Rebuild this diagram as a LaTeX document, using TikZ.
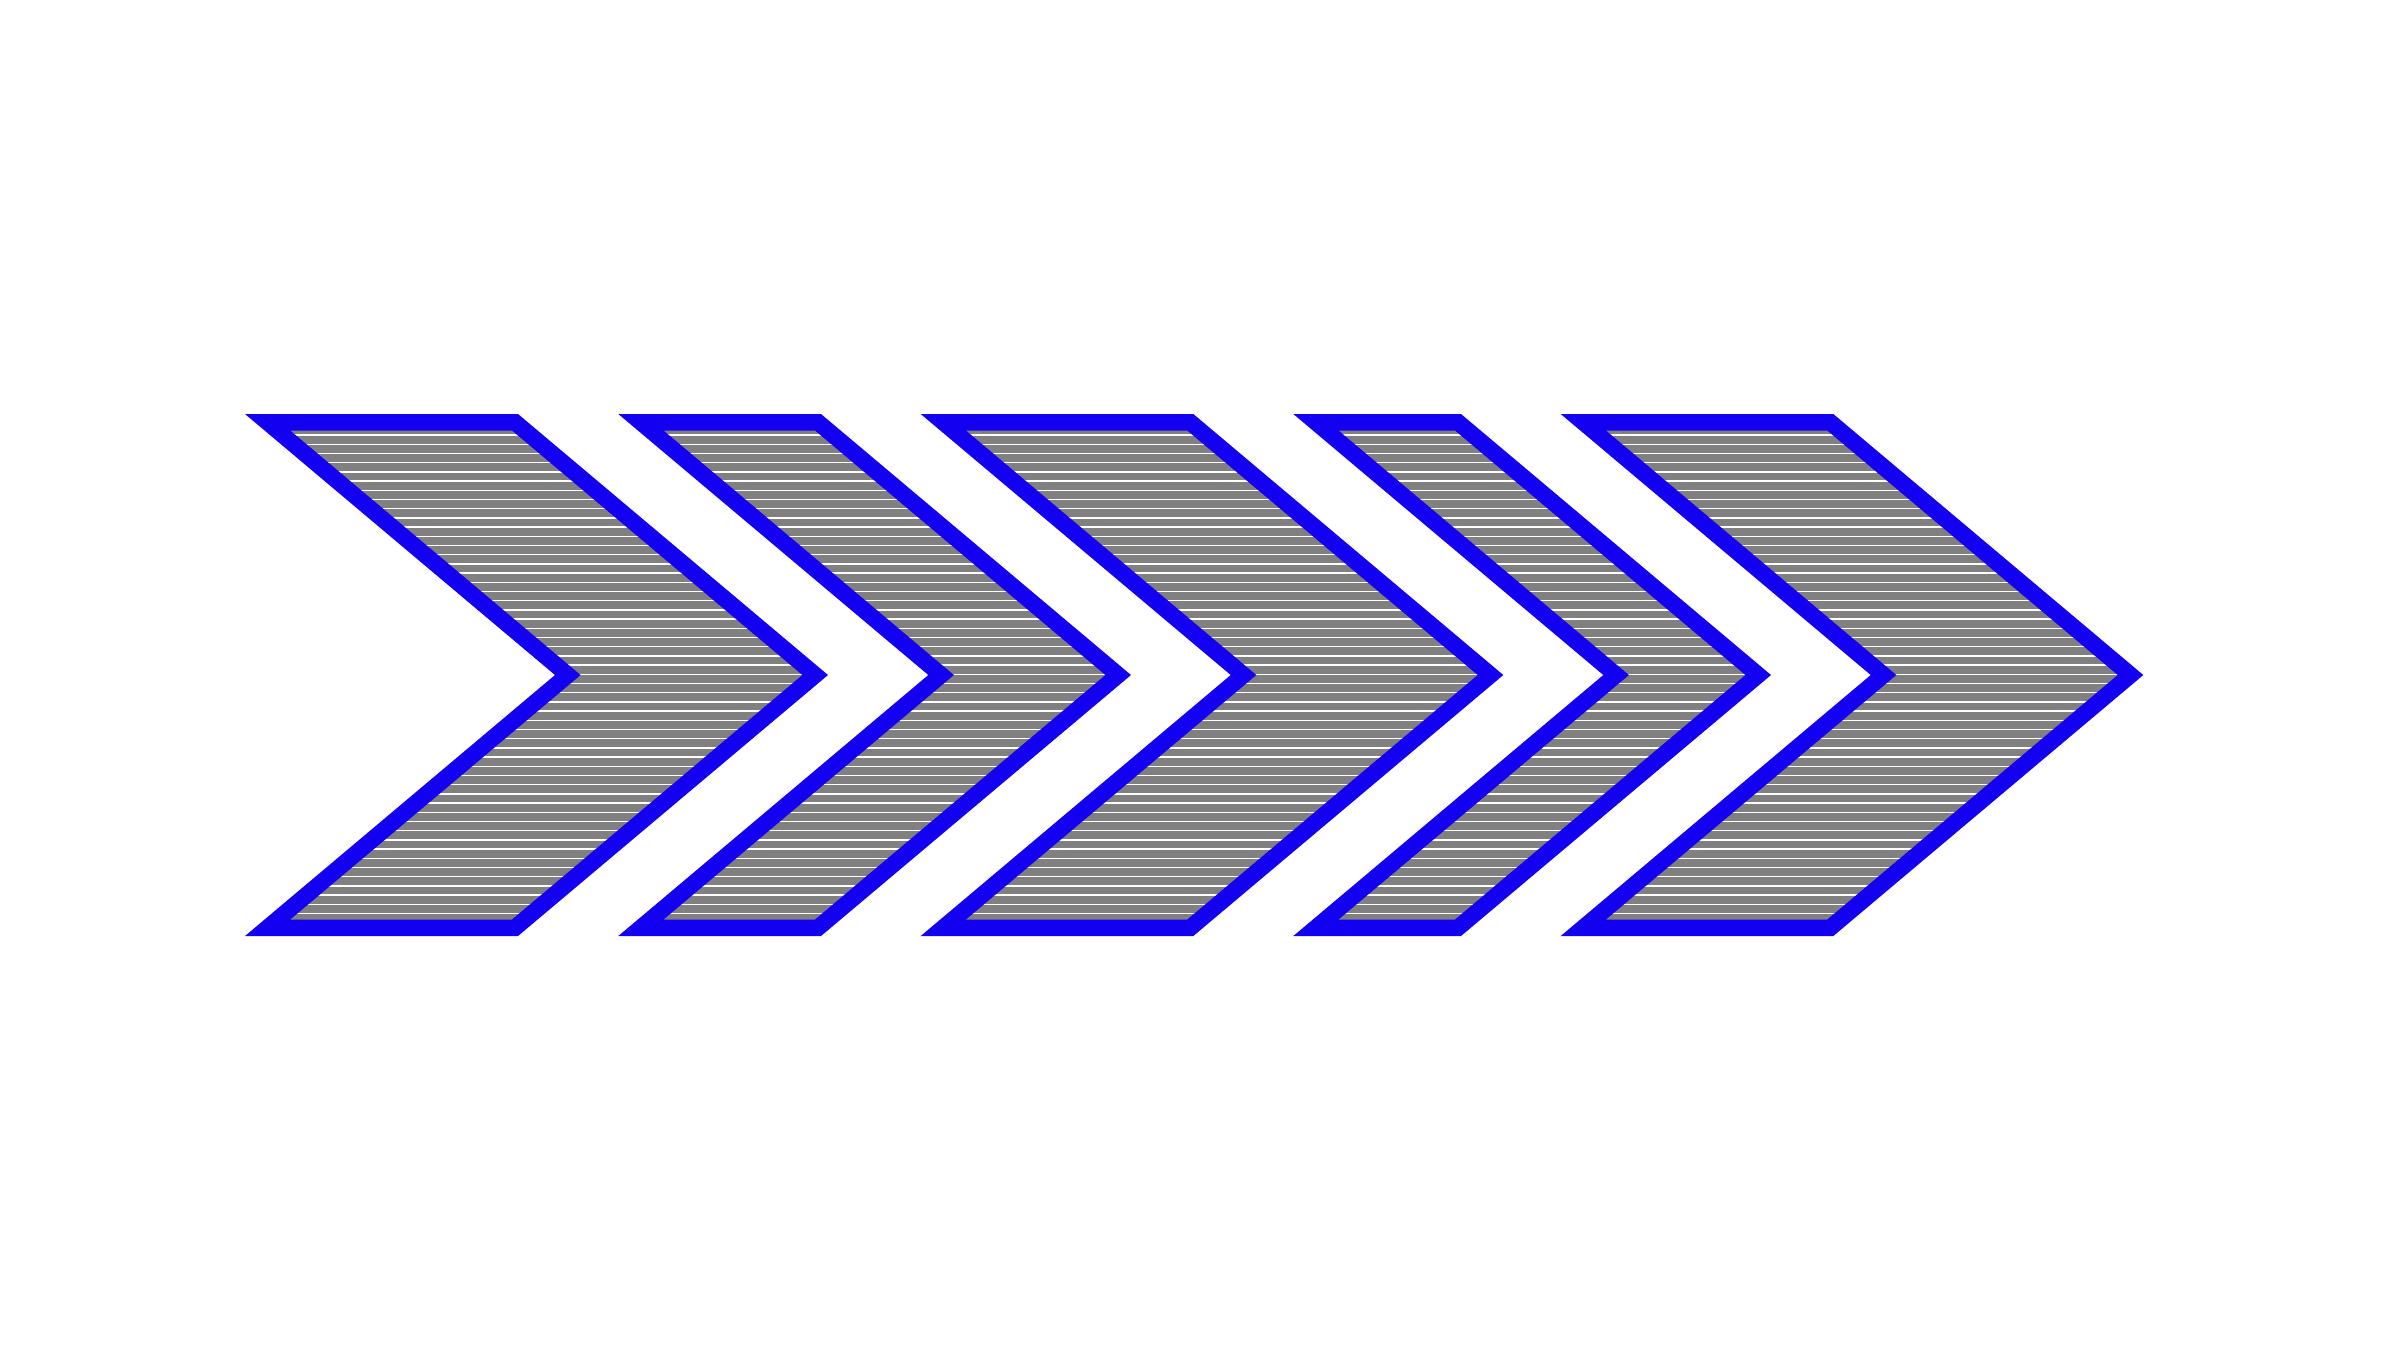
\documentclass[tikz,border=0pt]{standalone}
\definecolor{chevblue}{RGB}{20,0,240}
\newcommand\chevpath[2]{(#1,422.25) -- (#2,422.25) -- ({#2+300.2},675) -- (#2,927.75)
    -- (#1,927.75) -- ({#1+300.2},675) -- cycle}
\tikzset{
  chevborder/.style={draw=chevblue, line width=7.17pt, line join=miter},
  hatchline/.style={draw=white, line width=0.6pt}
}
\begin{document}
\begin{tikzpicture}[x=0.43478pt,y=-0.43478pt]
\useasboundingbox (0,0) rectangle (2400,1350);
\foreach \a/\b in {267.6/515, 640.9/818, 943.3/1190.3, 1315.9/1458, 1583.3/1830.3}{
  \begin{scope}
    \clip \chevpath{\a}{\b};
    \fill[gray] \chevpath{\a}{\b};
    \foreach \i in {0,...,53}{
      \draw[hatchline] ({\a-20},{435.1+9.2*\i}) -- ({\b+320},{435.1+9.2*\i});
    }
  \end{scope}
  \path[chevborder] \chevpath{\a}{\b};
}
\end{tikzpicture}
\end{document}
